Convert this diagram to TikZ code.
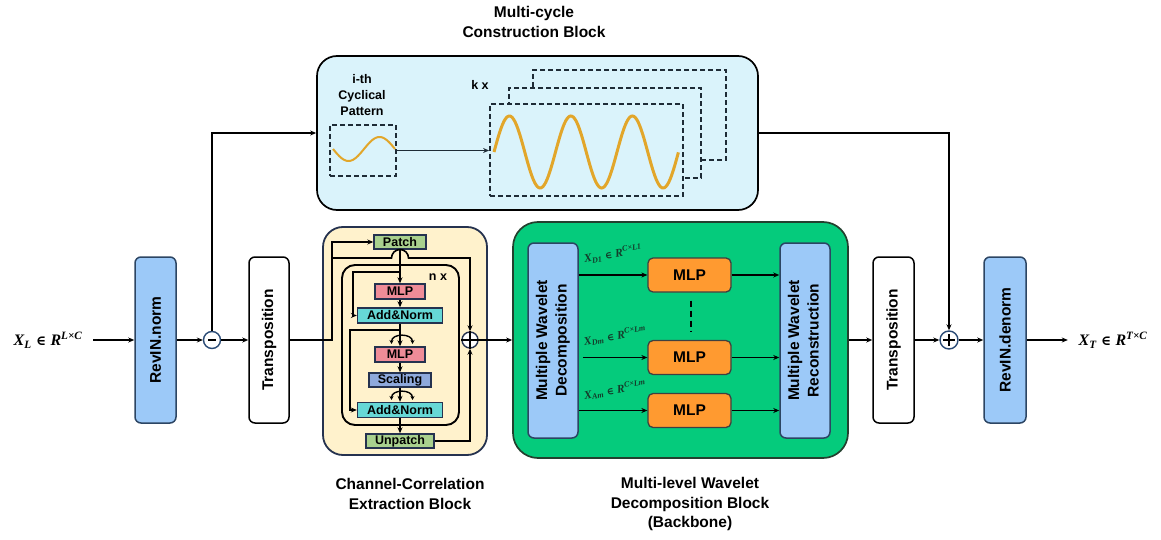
\documentclass[tikz,border=0pt]{standalone}
\usepackage{fontspec}
\setmainfont{Liberation Sans}
\newfontfamily\lblserif{Liberation Serif}
\newfontfamily\dvserif{DejaVu Serif}
\newcommand{\mlab}[3]{{\lblserif\bfseries\itshape #1\textsubscript{#2}}\ {\dvserif\bfseries\fontsize{0.85em}{1em}\selectfont ∈}\ {\lblserif\bfseries\itshape R\textsuperscript{#3}}}
\usetikzlibrary{arrows.meta,calc}
\definecolor{topfill}{HTML}{DAF3FB}
\definecolor{ccefill}{HTML}{FFF2CC}
\definecolor{ccedraw}{HTML}{25324F}
\definecolor{wdfill}{HTML}{05CB7C}
\definecolor{wddraw}{HTML}{23402E}
\definecolor{revfill}{HTML}{9CC9F8}
\definecolor{revdraw}{HTML}{2C4563}
\definecolor{mlporange}{HTML}{FF9A30}
\definecolor{mlppink}{HTML}{EF8C98}
\definecolor{addcyan}{HTML}{66D8D6}
\definecolor{scalblue}{HTML}{8EA9DB}
\definecolor{patchgreen}{HTML}{A9D18E}
\definecolor{wavecol}{HTML}{E2A62A}
\definecolor{dashcol}{HTML}{1E2B36}
\definecolor{lblgreen}{HTML}{143D2B}
\definecolor{circdraw}{HTML}{2A4A75}
\begin{document}
\begin{tikzpicture}[x=1pt,y=-1pt,
  font=\bfseries\fontsize{15.5}{19.5}\selectfont,
  >={Stealth[length=6pt,width=5pt]},
  line width=1.6pt,
  conn/.style={->,line width=1.6pt},
  tallbox/.style={draw=revdraw,fill=revfill,rounded corners=6pt,line width=1.5pt,inner sep=0pt},
  whitebox/.style={draw=black,fill=white,rounded corners=6pt,line width=1.5pt,inner sep=0pt},
  smallbox/.style={draw=ccedraw,line width=1.4pt,inner sep=0pt,font=\bfseries\fontsize{12.5}{14}\selectfont},
  mlpbox/.style={draw=black!75,fill=mlporange,rounded corners=5pt,line width=1.3pt,inner sep=0pt,minimum width=83pt,minimum height=34pt},
  dbox/.style={draw=dashcol,fill=topfill,dash pattern=on 5pt off 3pt,line width=1.8pt,inner sep=0pt},
  opcirc/.style={circle,draw=circdraw,fill=white,line width=1.4pt,minimum size=17pt,inner sep=0pt},
  lbl/.style={font=\fontsize{11.5}{13}\selectfont,text=lblgreen,inner sep=0pt},
  mathlbl/.style={font=\fontsize{16}{18}\selectfont,inner sep=0pt},
  title/.style={align=center,inner sep=0pt},
  curv/.style={{Stealth[length=4pt,width=4pt]}-{Stealth[length=4pt,width=4pt]},line width=1.4pt}
]
\useasboundingbox (0,0) rectangle (1161,540);

% ---------- Multi-cycle construction block ----------
\node[title] (mctitle) at (534,22) {Multi-cycle\\Construction Block};
\node[draw=black,fill=topfill,rounded corners=20pt,line width=1.7pt,minimum width=441pt,minimum height=154pt,inner sep=0pt] (mc) at (537.5,133) {};
\node[title,font=\bfseries\fontsize{12.5}{16}\selectfont] (ith) at (362,95) {i-th\\Cyclical\\Pattern};
\node[dbox,minimum width=66pt,minimum height=51pt] (sb) at (363,150.5) {};
\draw[wavecol,line width=2pt] plot[domain=0:62,samples=50,variable=\t] ({333+\t},{149+12*sin(5.80645*\t)});
\node[dbox,minimum width=193pt,minimum height=90pt] (bb) at (629.5,115) {};
\node[dbox,minimum width=192pt,minimum height=90pt] (bm) at (605,133) {};
\node[dbox,minimum width=193pt,minimum height=92pt] (bf) at (586.5,150) {};
\draw[wavecol,line width=3pt] plot[domain=0:184.4,samples=150,variable=\t] ({494+\t},{152-36*sin(5.8537*\t)});
\node[font=\bfseries\fontsize{12.5}{14}\selectfont] (kx) at (480,85) {k x};
\draw[conn,draw=dashcol] (sb.east) -- (sb.east -| bf.west);

% ---------- input side ----------
\node[mathlbl] (xl) at (48,340) {\mlab{X}{L}{L×C}};
\node[tallbox,minimum width=41pt,minimum height=166pt] (rn) at (155.5,340) {\rotatebox{90}{RevIN.norm}};
\node[opcirc] (minus) at (212,340) {};
\draw[line width=1.4pt] ([xshift=-4pt]minus.center) -- ([xshift=4pt]minus.center);
\node[whitebox,minimum width=40pt,minimum height=166pt] (tr1) at (269,340) {\rotatebox{90}{Transposition}};
\draw[conn] ([xshift=10pt]xl.east) -- (rn.west);
\draw[conn] (rn.east) -- (minus.west);
\draw[conn] (minus.east) -- (tr1.west);
\draw[conn] (minus.north) |- (mc.west);

% ---------- Channel-correlation extraction block ----------
\node[draw=ccedraw,fill=ccefill,rounded corners=20pt,line width=1.8pt,minimum width=164pt,minimum height=228pt,inner sep=0pt] (cce) at (405,341) {};
\node[draw=black,rounded corners=13pt,line width=1.9pt,minimum width=117pt,minimum height=160pt,inner sep=0pt] (loop) at (400.5,345) {};
\node[font=\bfseries\fontsize{12.5}{14}\selectfont] (nx) at (438,277) {n x};
\node[smallbox,fill=patchgreen,minimum width=52pt,minimum height=14pt] (patch) at (400,242) {Patch};
\node[smallbox,fill=mlppink,minimum width=50pt,minimum height=15pt] (mlp1) at (400,291.5) {MLP};
\node[smallbox,fill=addcyan,minimum width=85pt,minimum height=15pt] (an1) at (400,315.5) {Add\&Norm};
\node[smallbox,fill=mlppink,minimum width=50pt,minimum height=15pt] (mlp2) at (400,354.5) {MLP};
\node[smallbox,fill=scalblue,minimum width=62pt,minimum height=14pt] (scal) at (400,380) {Scaling};
\node[smallbox,fill=addcyan,minimum width=85pt,minimum height=15pt] (an2) at (400,410) {Add\&Norm};
\node[smallbox,fill=patchgreen,minimum width=68pt,minimum height=14pt] (unp) at (400,441) {Unpatch};
\node[circle,draw=ccedraw,fill=white,line width=1.4pt,minimum size=16pt,inner sep=0pt] (pl1) at (470,340) {};
\draw[line width=1.3pt] (pl1.west) -- (pl1.east) (pl1.north) -- (pl1.south);

\coordinate (j1) at (332,340);
\coordinate (j2) at (332,258);
\coordinate (r1) at (400,272);
\coordinate (r2) at (400,330);
\draw[conn] (tr1.east) -- (j1) |- (patch.west);
\draw[conn] (j2) -- (391.5,258) arc[start angle=180,end angle=0,radius=8.5pt] -- (470,258) -- (pl1.north);
\draw[conn] (patch.south) -- (mlp1.north);
\draw[conn] (mlp1.south) -- (an1.north);
\draw[conn] (r1) -- (353,272) |- (an1.west);
\draw[conn] (an1.south) -- (mlp2.north);
\draw[conn] (r2) -- (350,330) |- (an2.west);
\draw[conn] (mlp2.south) -- (scal.north);
\draw[conn] (scal.south) -- (an2.north);
\draw[conn] (an2.south) -- (unp.north);
\draw[conn] (unp.east) -| (pl1.south);
\draw[curv] (391.5,344) .. controls (391.5,333) and (412.5,333) .. (412.5,344);
\draw[curv] (391.5,400) .. controls (391.5,389) and (412.5,389) .. (412.5,400);
\node[title] (ccetitle) at (410,494) {Channel-Correlation\\Extraction Block};

% ---------- Multi-level wavelet decomposition block ----------
\node[draw=wddraw,fill=wdfill,rounded corners=25pt,line width=1.7pt,minimum width=335pt,minimum height=236pt,inner sep=0pt] (wd) at (680.5,340) {};
\node[tallbox,minimum width=50pt,minimum height=195pt] (dec) at (553,340.5) {\rotatebox{90}{\begin{tabular}{@{}c@{}}Multiple Wavelet\\Decomposition\end{tabular}}};
\node[tallbox,minimum width=50pt,minimum height=195pt] (rec) at (805,340.5) {\rotatebox{90}{\begin{tabular}{@{}c@{}}Multiple Wavelet\\Reconstruction\end{tabular}}};
\node[mlpbox] (m1) at (689.5,275) {MLP};
\node[mlpbox] (m2) at (689.5,357.5) {MLP};
\node[mlpbox] (m3) at (689.5,410.5) {MLP};
\draw[conn] (dec.east |- m1) -- (m1.west);
\draw[conn] ([xshift=4pt]dec.east |- m2) -- (m2.west);
\draw[conn] (dec.east |- m3) -- (m3.west);
\draw[conn] (m1.east) -- (m1.east -| rec.west);
\draw[conn] (m2.east) -- (m2.east -| rec.west);
\draw[conn] (m3.east) -- (m3.east -| rec.west);
\draw[line width=1.8pt,dash pattern=on 6pt off 4pt] ($(m1.south)+(1.5,8)$) -- ($(m2.north)+(1.5,-8)$);
\node[lbl,rotate=10] (ld1) at (613,254) {\mlab{X}{D1}{C×L1}};
\node[lbl,rotate=10] (ldm) at (615,336) {\mlab{X}{Dm}{C×Lm}};
\node[lbl,rotate=10] (lam) at (615,390) {\mlab{X}{Am}{C×Lm}};
\draw[conn] (pl1.east) -- (wd.west);
\node[title] (wdtitle) at (690,504) {Multi-level Wavelet\\Decomposition Block\\(Backbone)};

% ---------- output side ----------
\node[whitebox,minimum width=41pt,minimum height=166pt] (tr2) at (893.5,340) {\rotatebox{90}{Transposition}};
\node[opcirc,minimum size=18pt] (pl2) at (949,340) {};
\draw[line width=1.3pt] ([xshift=-6pt]pl2.center) -- ([xshift=6pt]pl2.center) ([yshift=-6pt]pl2.center) -- ([yshift=6pt]pl2.center);
\node[tallbox,minimum width=42pt,minimum height=166pt] (rd) at (1005,340) {\rotatebox{90}{RevIN.denorm}};
\node[mathlbl] (xt) at (1113,340) {\mlab{X}{T}{T×C}};
\draw[conn] (wd.east) -- (tr2.west);
\draw[conn] (tr2.east) -- (pl2.west);
\draw[conn] (mc.east) -| (pl2.north);
\draw[conn] (pl2.east) -- (rd.west);
\draw[conn] (rd.east) -- ([xshift=-10pt]xt.west);
\end{tikzpicture}
\end{document}
